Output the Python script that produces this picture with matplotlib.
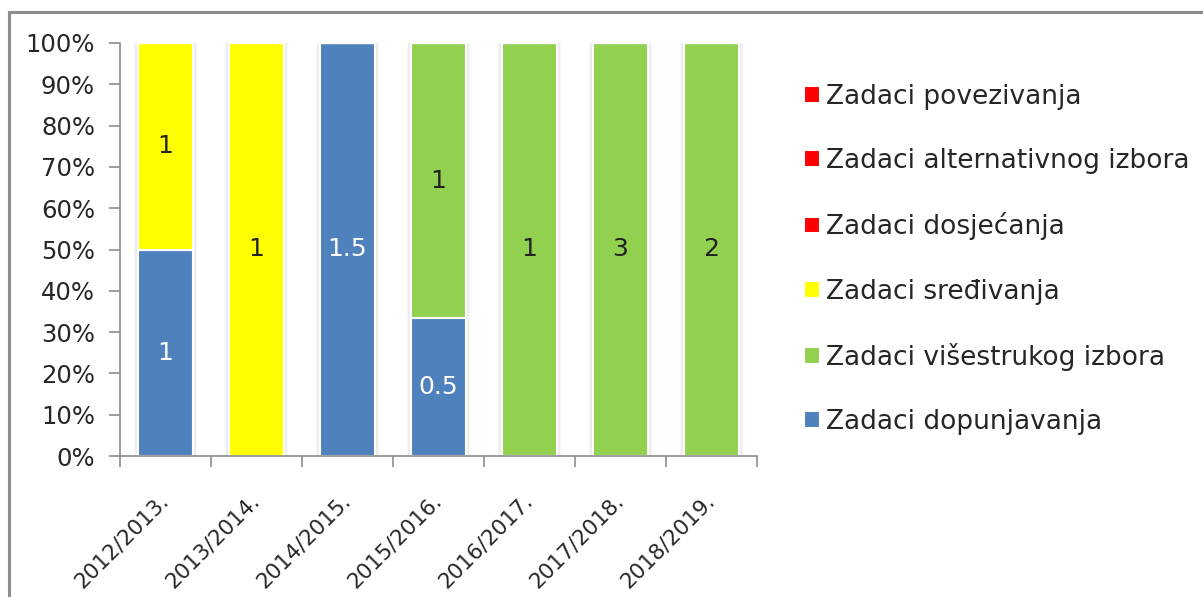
import matplotlib
matplotlib.use("Agg")
import matplotlib.pyplot as plt
from matplotlib.patches import Rectangle
import numpy as np

categories = ["2012/2013.", "2013/2014.", "2014/2015.", "2015/2016.",
              "2016/2017.", "2017/2018.", "2018/2019."]
series_names = ["Zadaci dopunjavanja", "Zadaci višestrukog izbora", "Zadaci sređivanja",
                "Zadaci dosjećanja", "Zadaci alternativnog izbora", "Zadaci povezivanja"]
dopunjavanja = [1, 0, 1.5, 0.5, 0, 0, 0]
visestrukog = [0, 0, 0, 1, 1, 3, 2]
sredivanja = [1, 1, 0, 0, 0, 0, 0]
dosjecanja = [0, 0, 0, 0, 0, 0, 0]
alternativnog = [0, 0, 0, 0, 0, 0, 0]
povezivanja = [0, 0, 0, 0, 0, 0, 0]
series_values = [dopunjavanja, visestrukog, sredivanja, dosjecanja, alternativnog, povezivanja]
colors = ["#4F81BD", "#92D050", "#FFFF00", "#FF0000", "#FF0000", "#FF0000"]
label_colors = ["white", "#222222", "#222222", "#222222", "#222222", "#222222"]

plt.rcParams['font.family'] = ['DejaVu Sans']
text_color = "#262626"

fig = plt.figure(figsize=(12.03, 5.97), dpi=100)
W, H = 1203, 597
# outer border (clipped at right/bottom)
fig.patches.append(Rectangle((9 / W, -0.05), 1.1, (597 - 12) / H + 0.05,
                             transform=fig.transFigure, fill=False,
                             edgecolor="#8c8c8c", linewidth=2.2, zorder=0))

ax = fig.add_axes([120 / W, 1 - 456 / H, (757 - 120) / W, (456 - 43) / H])

vals = np.array(series_values, dtype=float)
totals = vals.sum(axis=0)
pct = vals / totals * 100
x = np.arange(len(categories))
width = 0.6

# subtle glow behind bars
for extra, alpha in [(0.10, 0.03), (0.06, 0.04), (0.03, 0.05)]:
    ax.bar(x, 100, width=width + extra, color="#000000", alpha=alpha, zorder=1, linewidth=0)

bottom = np.zeros(len(categories))
handles = []
for i, name in enumerate(series_names):
    b = ax.bar(x, pct[i], width=width, bottom=bottom, color=colors[i],
               edgecolor="white", linewidth=1.5, label=name, zorder=2)
    handles.append(b)
    for j in range(len(categories)):
        if vals[i][j] > 0:
            v = vals[i][j]
            ax.text(x[j], bottom[j] + pct[i][j] / 2, f"{v:g}", ha="center", va="center",
                    fontsize=18, color=label_colors[i], zorder=3)
    bottom = bottom + pct[i]

ax.set_xlim(-0.5, len(categories) - 0.5)
ax.set_ylim(0, 100)
ax.set_yticks(np.arange(0, 101, 10))
ax.set_yticklabels([f"{v}%" for v in range(0, 101, 10)])
ax.set_xticks(np.arange(-0.5, len(categories), 1.0))
ax.set_xticklabels([])
ax.set_xticks(x, minor=True)
ax.set_xticklabels(categories, minor=True, rotation=45, ha="right", va="center",
                   rotation_mode="anchor", fontsize=15.5, color=text_color)
ax.tick_params(axis="x", which="minor", length=0, pad=30)
ax.tick_params(axis="x", which="major", length=8, width=1.2, color="#8c8c8c", direction="out")
ax.tick_params(axis="y", length=8, width=1.2, color="#8c8c8c", labelsize=17.5,
               labelcolor=text_color, pad=10)
for s in ["top", "right"]:
    ax.spines[s].set_visible(False)
for s in ["left", "bottom"]:
    ax.spines[s].set_color("#8c8c8c")
    ax.spines[s].set_linewidth(1.2)

leg = fig.legend(handles[::-1], series_names[::-1], loc="upper left",
                 bbox_to_anchor=(780 / W, 1 - 60 / H), frameon=False,
                 fontsize=19, handlelength=0.6, handleheight=0.6, handletextpad=0.25,
                 labelspacing=1.45, labelcolor=text_color)

fig.savefig("out.png", dpi=100)
